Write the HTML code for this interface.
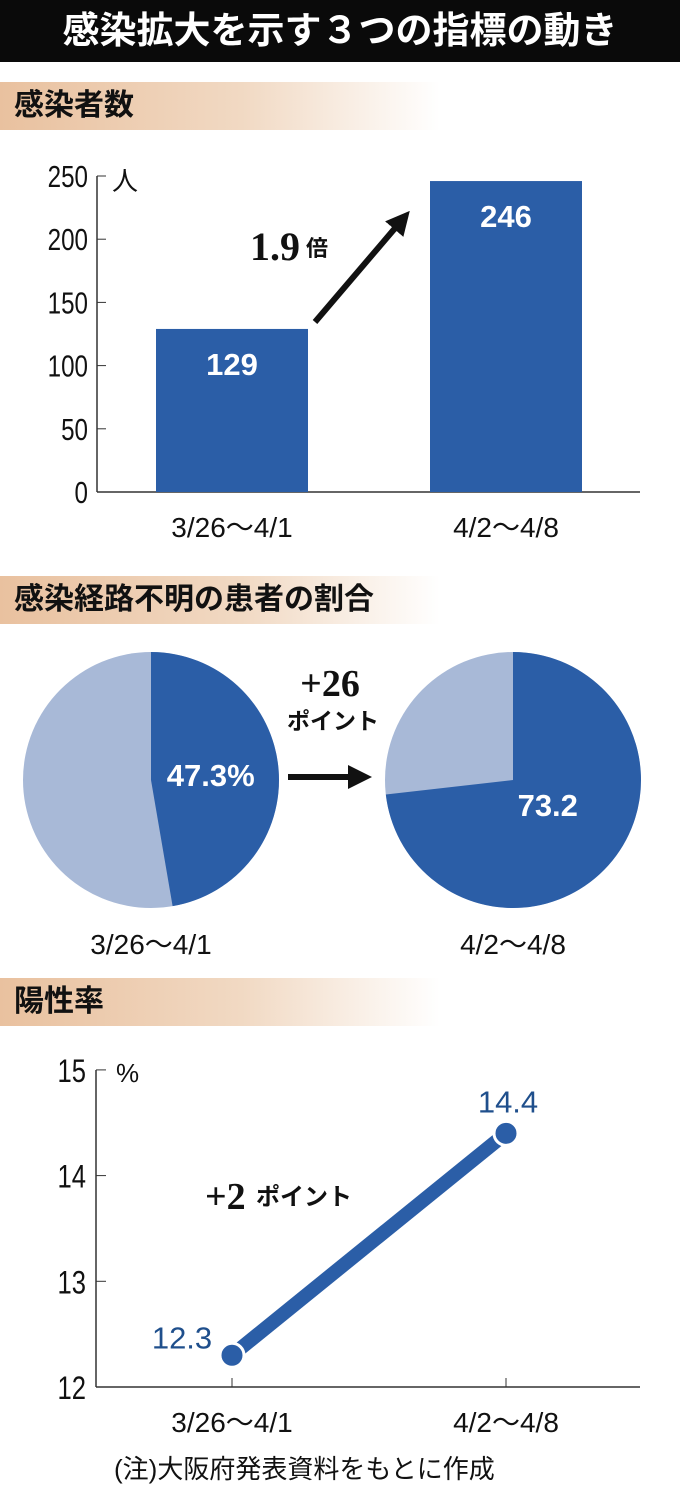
<!DOCTYPE html>
<html><head><meta charset="utf-8"><style>
body{margin:0;background:#fff;width:680px;height:1502px;overflow:hidden;font-family:"Liberation Sans","Noto Sans CJK JP",sans-serif}
.sec{position:absolute;left:0;width:440px;height:48px;background:linear-gradient(90deg,#e9c19f 0%,#f1d9c3 55%,#fff 100%);font-size:30px;font-weight:bold;line-height:48px;padding-left:14px;box-sizing:border-box;color:#111}
</style></head><body>
<div style="position:absolute;left:0;top:0;width:680px;height:62px;background:#0a0a0a;color:#fff;font-size:37px;font-weight:bold;text-align:center;line-height:62px">感染拡大を示す３つの指標の動き</div>
<div class="sec" style="top:82px">感染者数</div>
<div class="sec" style="top:576px">感染経路不明の患者の割合</div>
<div class="sec" style="top:978px">陽性率</div>
<svg id="s" width="680" height="1502" style="position:absolute;left:0;top:0">
<defs><marker id="ah" markerWidth="4" markerHeight="4" refX="2" refY="2" orient="auto"><path d="M0,0L4,2L0,4z" fill="#111"/></marker></defs>
</svg>
<script>
const barCats=["3/26～4/1","4/2～4/8"];
const barVals=[129,246];
const barTicks=[0,50,100,150,200,250];
const pieVals=[47.3,73.2];
const pieLabels=["47.3%","73.2"];
const lineVals=[12.3,14.4];
const lineTicks=[12,13,14,15];
const NS="http://www.w3.org/2000/svg",s=document.getElementById('s');
function mk(t,a,txt){const e=document.createElementNS(NS,t);for(const k in a)e.setAttribute(k,a[k]);if(txt!==undefined)e.textContent=txt;s.appendChild(e);return e;}
const F='"Liberation Sans","Noto Sans CJK JP",sans-serif',SF='"Liberation Serif","Noto Serif CJK SC",serif';
// bar chart
const by=v=>492-v*(316/250);const bx=[232,506];
let e=mk('line',{x1:97,y1:176,x2:97,y2:492,stroke:'#333','stroke-width':1.5});

e=mk('line',{x1:97,y1:492,x2:640,y2:492,stroke:'#333','stroke-width':1.5});

barTicks.forEach(t=>{mk('line',{x1:97,x2:106,y1:by(t),y2:by(t),stroke:'#333'});
e=mk('text',{x:88,y:by(t)+11,'text-anchor':'end','font-size':31,'font-family':F,fill:'#111',transform:'translate(88,0) scale(0.78,1) translate(-88,0)'},t);
});
e=mk('text',{x:112,y:190,'font-size':26,'font-family':F,fill:'#111'},'人');

barVals.forEach((v,i)=>{e=mk('rect',{x:bx[i]-76,y:by(v),width:152,height:492-by(v),fill:'#2b5ea7'});

e=mk('text',{x:bx[i],y:by(v)+46,'text-anchor':'middle','font-size':31,'font-weight':'bold','font-family':F,fill:'#fff'},v);

e=mk('text',{x:bx[i],y:537,'text-anchor':'middle','font-size':28,'font-family':F,fill:'#111'},barCats[i]);
});
e=mk('line',{x1:315,y1:322,x2:402,y2:220,stroke:'#111','stroke-width':6,'marker-end':'url(#ah)'});

e=mk('text',{x:250,y:260,'font-size':40,'font-weight':'bold','font-family':SF,fill:'#111'},'1.9');

mk('text',{x:306,y:256,'font-size':22,'font-weight':'bold','font-family':F,fill:'#111'},'倍');
// pies
const pc=[[151,780],[513,780]];
pieVals.forEach((v,i)=>{const [cx,cy]=pc[i],r=128;
e=mk('circle',{cx,cy,r,fill:'#a8b9d7'});
const a=v/100*2*Math.PI,x=cx+r*Math.sin(a),y=cy-r*Math.cos(a);
e=mk('path',{d:`M${cx},${cy}L${cx},${cy-r}A${r},${r} 0 ${v>50?1:0} 1 ${x},${y}Z`,fill:'#2b5ea7'});

const la=a/2,lr=i==0?70:60;
e=mk('text',{x:cx+lr*Math.sin(la)+(i==0?-10:-10),y:cy-lr*Math.cos(la)+(i==0?12:-4),'text-anchor':'middle','font-size':31,'font-weight':'bold','font-family':F,fill:'#fff'},pieLabels[i]);

e=mk('text',{x:cx,y:954,'text-anchor':'middle','font-size':28,'font-family':F,fill:'#111'},barCats[i]);
});
e=mk('line',{x1:288,y1:777,x2:360,y2:777,stroke:'#111','stroke-width':6,'marker-end':'url(#ah)'});

e=mk('text',{x:330,y:696,'text-anchor':'middle','font-size':38,'font-weight':'bold','font-family':SF,fill:'#111'},'+26');

mk('text',{x:333,y:729,'text-anchor':'middle','font-size':23,'font-weight':'bold','font-family':F,fill:'#111'},'ポイント');
// line chart
const ly=v=>1387-(v-12)*105.7,lx=[232,506];
e=mk('line',{x1:96,y1:1070,x2:96,y2:1387,stroke:'#333','stroke-width':1.5});

e=mk('line',{x1:96,y1:1387,x2:640,y2:1387,stroke:'#333','stroke-width':1.5});

lineTicks.forEach(t=>{mk('line',{x1:96,x2:106,y1:ly(t),y2:ly(t),stroke:'#333'});
e=mk('text',{x:86,y:ly(t)+12,'text-anchor':'end','font-size':32,'font-family':F,fill:'#111',transform:'translate(86,0) scale(0.8,1) translate(-86,0)'},t);
});
e=mk('text',{x:116,y:1082,'font-size':26,'font-family':F,fill:'#111'},'%');

e=mk('line',{x1:lx[0],y1:ly(lineVals[0]),x2:lx[1],y2:ly(lineVals[1]),stroke:'#2b5ea7','stroke-width':14});

lineVals.forEach((v,i)=>{mk('line',{x1:lx[i],x2:lx[i],y1:1387,y2:1378,stroke:'#333'});
e=mk('circle',{cx:lx[i],cy:ly(v),r:12,fill:'#2b5ea7',stroke:'#fff','stroke-width':3});

e=mk('text',{x:i==0?182:508,y:i==0?ly(v)-7:ly(v)-21,'text-anchor':'middle','font-size':31,'font-family':F,fill:'#1f4f8c'},v);

e=mk('text',{x:lx[i],y:1432,'text-anchor':'middle','font-size':28,'font-family':F,fill:'#111'},barCats[i]);
});
e=mk('text',{x:205,y:1209,'font-size':38,'font-weight':'bold','font-family':SF,fill:'#111'},'+2');

mk('text',{x:256,y:1205,'font-size':24,'font-weight':'bold','font-family':F,fill:'#111'},'ポイント');
e=mk('text',{x:114,y:1478,'font-size':26,'font-family':F,fill:'#111'},'(注)大阪府発表資料をもとに作成');

</script>
</body></html>
